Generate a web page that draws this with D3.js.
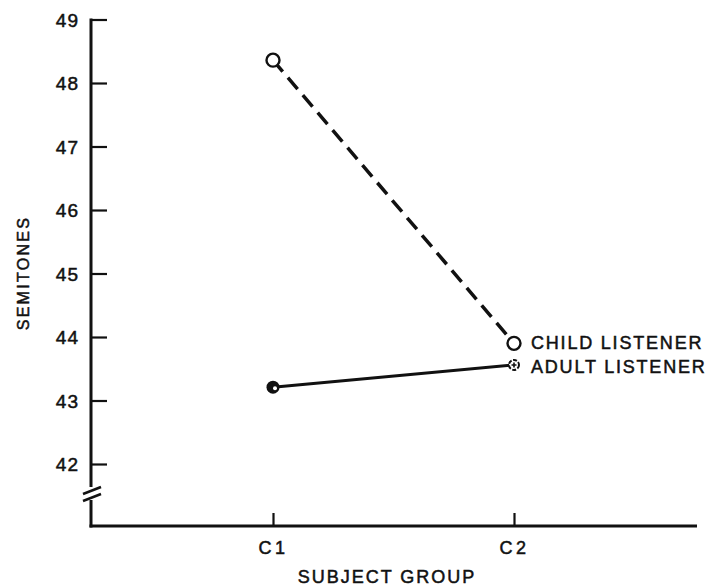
<!DOCTYPE html>
<html><head><meta charset="utf-8">
<script src="https://cdn.jsdelivr.net/npm/d3@7"></script>
<style>
html,body{margin:0;padding:0;background:#fff;}
text{font-family:"Liberation Sans",Arial,sans-serif;fill:#111;}
</style>
</head><body>
<svg id="chart" width="715" height="588"></svg>
<script>
const groups = ["C1", "C2"];
const childListener = [48.36, 43.9];
const adultListener = [43.21, 43.56];
const yTicks = [42, 43, 44, 45, 46, 47, 48, 49];
const seriesLabels = ["CHILD LISTENER", "ADULT LISTENER"];

const svg = d3.select("#chart");
const axisX = 91, axisY = 526, axisRight = 697;

const y = d3.scaleLinear().domain([42, 49]).range([464, 19.5]);
const x = d3.scalePoint().domain(groups).range([273, 514]);

const ink = "#111";

// y axis ticks & labels
const yAxis = d3.axisLeft(y).tickValues(yTicks).tickFormat(d3.format("d"))
  .tickSizeInner(-16).tickSizeOuter(0).tickPadding(12);
const gy = svg.append("g").attr("transform", `translate(${axisX},0)`).call(yAxis);
gy.select(".domain").remove();
gy.selectAll(".tick line").attr("stroke", ink).attr("stroke-width", 2.2);
gy.selectAll(".tick text").style("font-size", "19px").attr("letter-spacing", "1")
  .attr("stroke", ink).attr("stroke-width", 0.5).attr("dy", "0.36em");

// y axis line with break
svg.append("line").attr("x1", axisX).attr("x2", axisX).attr("y1", y(49) - 1).attr("y2", 487)
  .attr("stroke", ink).attr("stroke-width", 3);
svg.append("line").attr("x1", axisX).attr("x2", axisX).attr("y1", 500).attr("y2", axisY + 1.5)
  .attr("stroke", ink).attr("stroke-width", 3);
[[83, 494, 101, 487], [83, 501, 101, 494]].forEach(s => {
  svg.append("line").attr("x1", s[0]).attr("y1", s[1]).attr("x2", s[2]).attr("y2", s[3])
    .attr("stroke", ink).attr("stroke-width", 2.5);
});

// x axis
svg.append("line").attr("x1", axisX - 1.5).attr("x2", axisRight).attr("y1", axisY).attr("y2", axisY)
  .attr("stroke", ink).attr("stroke-width", 3);
const xAxis = d3.axisBottom(x).tickSizeInner(-13).tickSizeOuter(0).tickPadding(15);
const gx = svg.append("g").attr("transform", `translate(0,${axisY})`).call(xAxis);
gx.select(".domain").remove();
gx.selectAll(".tick line").attr("stroke", ink).attr("stroke-width", 2.2);
gx.selectAll(".tick text").style("font-size", "18px").attr("letter-spacing", "3.5")
  .attr("stroke", ink).attr("stroke-width", 0.5);

// axis titles
svg.append("text").attr("x", 387).attr("y", 583).attr("text-anchor", "middle")
  .style("font-size", "18px").attr("letter-spacing", "2").attr("stroke", ink).attr("stroke-width", 0.5)
  .text("SUBJECT GROUP");
svg.append("text").attr("transform", "translate(29,273) rotate(-90)").attr("text-anchor", "middle")
  .style("font-size", "16px").attr("letter-spacing", "2.3").attr("stroke", ink).attr("stroke-width", 0.5)
  .text("SEMITONES");

// lines
const line = d3.line().x((d, i) => x(groups[i])).y(d => y(d));
svg.append("path").datum(childListener).attr("d", line).attr("fill", "none")
  .attr("stroke", ink).attr("stroke-width", 3.5).attr("stroke-dasharray", "15,8");
svg.append("path").datum(adultListener).attr("d", line).attr("fill", "none")
  .attr("stroke", ink).attr("stroke-width", 3);

// markers
svg.selectAll(".child").data(childListener).enter().append("circle")
  .attr("cx", (d, i) => x(groups[i])).attr("cy", d => y(d)).attr("r", 6.5)
  .attr("fill", "#fff").attr("stroke", ink).attr("stroke-width", 2.4);
// adult C1: filled
svg.append("circle").attr("cx", x(groups[0])).attr("cy", y(adultListener[0])).attr("r", 6.5).attr("fill", ink);
svg.append("circle").attr("cx", x(groups[0]) + 2).attr("cy", y(adultListener[0]) + 1).attr("r", 2).attr("fill", "#fff");
// adult C2: small circle with cross
const ax2 = x(groups[1]), ay2 = y(adultListener[1]);
svg.append("circle").attr("cx", ax2).attr("cy", ay2).attr("r", 5).attr("fill", "#fff")
  .attr("stroke", ink).attr("stroke-width", 2).attr("stroke-dasharray", "4,1.5");
svg.append("path").attr("d", `M${ax2 - 2.5},${ay2}H${ax2 + 2.5}M${ax2},${ay2 - 2.5}V${ay2 + 2.5}`)
  .attr("stroke", ink).attr("stroke-width", 1.6);

// series labels
const labY = [y(childListener[1]) - 1, y(adultListener[1]) + 2];
seriesLabels.forEach((t, i) => {
  svg.append("text").attr("x", 531).attr("y", labY[i]).attr("dy", "0.36em")
    .style("font-size", "18px").attr("letter-spacing", "1.8").attr("stroke", ink).attr("stroke-width", 0.5)
    .text(t);
});
</script>
</body></html>
